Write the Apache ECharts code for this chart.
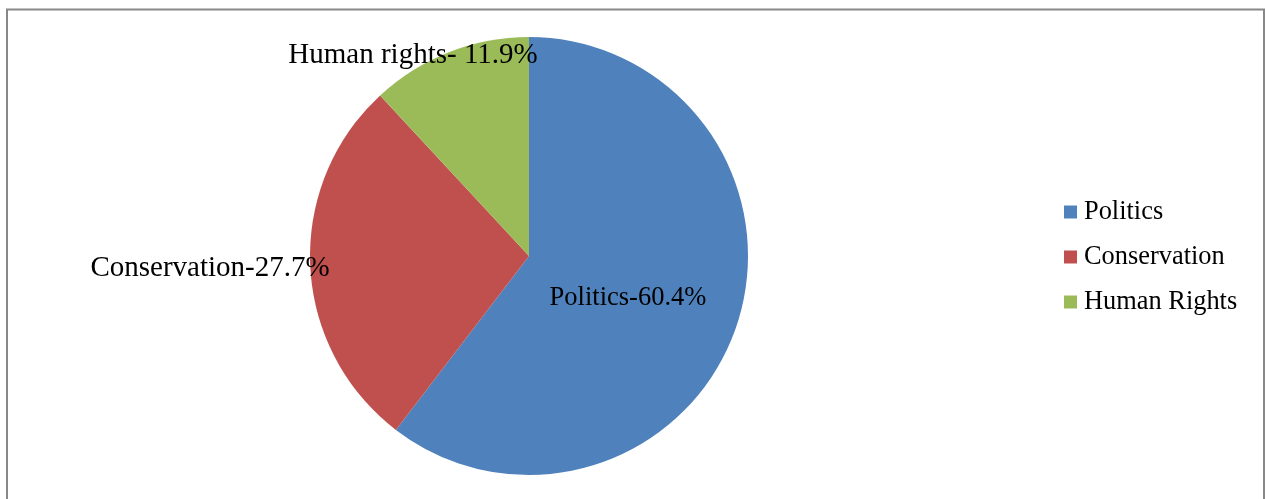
<!DOCTYPE html>
<html>
<head>
<meta charset="utf-8">
<script src="https://cdn.jsdelivr.net/npm/echarts@6/dist/echarts.min.js"></script>
<style>
html,body{margin:0;padding:0;background:#fff;}
#chart{width:1265px;height:499px;}
</style>
</head>
<body>
<div id="chart"></div>
<script>
const categories = ['Politics', 'Conservation', 'Human Rights'];
const values = [60.4, 27.7, 11.9];
const labelTexts = ['Politics-60.4%', 'Conservation-27.7%', 'Human rights- 11.9%'];
const colors = ['#4F81BD', '#C0504D', '#9BBB59'];

const labelPos = [[628, 298], [210, 268], [413, 55]];
const labelSizes = [26.5, 29, 29];

const chart = echarts.init(document.getElementById('chart'));
chart.setOption({
  animation: false,
  color: colors,
  graphic: [{
    type: 'rect',
    shape: {x: 7, y: 9.5, width: 1257, height: 500},
    style: {fill: 'none', stroke: '#888', lineWidth: 2},
    silent: true
  }],
  legend: {
    orient: 'vertical',
    left: 1064,
    top: 199,
    padding: 0,
    itemWidth: 13,
    itemHeight: 13,
    itemGap: 19,
    icon: 'rect',
    textStyle: {fontFamily: 'Liberation Serif', fontSize: 26.4, lineHeight: 26, color: '#000', padding: [0, 0, 0, 2]},
    data: categories
  },
  series: [{
    type: 'pie',
    center: [529, 256],
    radius: [0, 219],
    startAngle: 90,
    clockwise: true,
    label: {
      show: true,
      position: 'inside',
      fontFamily: 'Liberation Serif',
      fontSize: 29,
      color: '#000',
      formatter: p => labelTexts[p.dataIndex]
    },
    labelLine: {show: false},
    labelLayout: p => ({x: labelPos[p.dataIndex][0], y: labelPos[p.dataIndex][1], align: 'center', verticalAlign: 'middle', fontSize: labelSizes[p.dataIndex]}),
    emphasis: {disabled: true},
    data: categories.map((c, i) => ({name: c, value: values[i], label: {fontSize: labelSizes[i]}}))
  }]
});
</script>
</body>
</html>
